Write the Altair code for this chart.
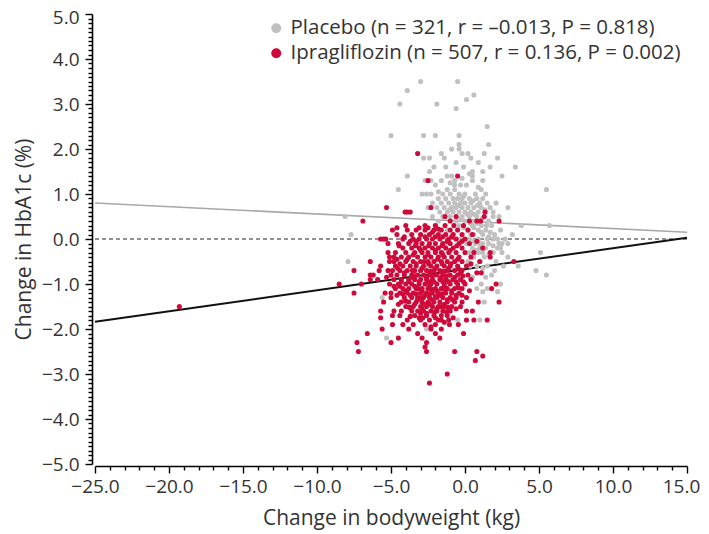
import altair as alt
import pandas as pd

FONT = "Open Sans"

placebo_label = "Placebo (n = 321, r = –0.013, P = 0.818)"
ipra_label = "Ipragliflozin (n = 507, r = 0.136, P = 0.002)"

# Placebo points (change in bodyweight kg, change in HbA1c %)
placebo_points = [
    (-3.0, 3.5), (-0.5, 3.5), (-3.9, 3.3), (0.6, 3.2), (0.1, 3.1), (-4.4, 3.0), (-1.9, 3.0), (-0.6, 2.9),
    (1.5, 2.5), (-5.0, 2.3), (-2.8, 2.3), (-2.0, 2.3), (-0.4, 2.3), (-0.4, 2.1), (1.6, 2.1), (-0.9, 2.0), (-0.4, 2.0),
    (-1.6, 1.9), (0.2, 1.9), (1.3, 1.9), (-2.8, 1.8), (-2.4, 1.8), (-1.4, 1.8), (0.4, 1.8), (2.2, 1.8),
    (3.4, 1.6), (-2.1, 1.6), (-0.1, 1.6), (1.7, 1.6), (-2.4, 1.5), (0.5, 1.5), (1.2, 1.5), (-3.9, 1.4),
    (-1.2, 1.4), (-0.9, 1.4), (0.5, 1.4), (2.5, 1.4),
    (-2.7, 1.3), (-2.3, 1.3), (-1.6, 1.3), (-0.7, 1.3), (0.5, 1.3), (1.2, 1.3), (-2.0, 1.2), (-0.7, 1.2),
    (-0.3, 1.2), (0.1, 1.2), (-4.5, 1.1), (-1.2, 1.1), (-0.7, 1.1), (1.1, 1.1), (5.5, 1.1), (-2.9, 1.0),
    (-2.6, 1.0), (-2.3, 1.0), (-1.5, 1.0), (-1.0, 1.0), (-0.4, 1.0), (0.0, 1.0), (0.7, 1.0), (1.4, 1.0),
    (-1.8, 0.9), (-1.3, 0.9), (-0.8, 0.9), (-0.5, 0.9), (-0.2, 0.9), (0.3, 0.9), (0.8, 0.9), (1.2, 0.9),
    (-2.2, 0.8), (-1.6, 0.8), (-1.1, 0.8), (-0.7, 0.8), (-0.3, 0.8), (0.0, 0.8), (0.4, 0.8), (1.0, 0.8),
    (1.5, 0.8), (2.1, 0.8),
    (-2.5, 0.7), (-1.9, 0.7), (-1.4, 0.7), (-0.9, 0.7), (-0.6, 0.7), (-0.2, 0.7), (0.2, 0.7), (0.6, 0.7),
    (1.1, 0.7), (1.7, 0.7), (2.9, 0.7),
    (-1.7, 0.6), (-1.2, 0.6), (-0.8, 0.6), (-0.4, 0.6), (0.0, 0.6), (0.4, 0.6), (0.9, 0.6), (1.4, 0.6), (1.9, 0.6),
    (-8.1, 0.5), (-2.2, 0.5), (-1.5, 0.5), (-1.0, 0.5), (-0.2, 0.5), (0.3, 0.5), (0.8, 0.5), (1.9, 0.5), (2.3, 0.5),
    (-1.8, 0.4), (-0.6, 0.4), (0.0, 0.4), (0.6, 0.4), (1.6, 0.4),
    (-2.0, 0.3), (-0.4, 0.3), (0.5, 0.3), (1.1, 0.3), (1.8, 0.3), (3.8, 0.3), (5.7, 0.3),
    (-1.2, 0.2), (0.2, 0.2), (0.9, 0.2), (1.4, 0.2), (2.4, 0.2),
    (-7.7, 0.1), (-0.8, 0.1), (0.6, 0.1), (1.2, 0.1), (2.0, 0.1), (3.2, 0.1),
    (0.3, 0.0), (0.9, 0.0), (1.5, 0.0), (1.9, 0.0), (2.7, 0.0),
    (0.1, -0.1), (0.7, -0.1), (1.2, -0.1), (1.6, -0.1), (2.3, -0.1), (2.5, -0.1), (2.9, -0.1),
    (0.5, -0.2), (1.0, -0.2), (1.4, -0.2), (2.2, -0.2), (2.4, -0.2),
    (0.3, -0.3), (0.9, -0.3), (1.9, -0.3), (5.1, -0.3), (0.6, -0.4), (1.3, -0.4), (2.9, -0.4),
    (-7.9, -0.5), (0.2, -0.5), (1.0, -0.5), (2.1, -0.5), (0.8, -0.6), (1.5, -0.6), (3.6, -0.6),
    (4.8, -0.7), (1.8, -0.8), (5.5, -0.8), (1.1, -1.0), (2.4, -1.0), (1.5, -1.1), (1.2, -1.17), (2.2, -1.17),
    (-5.6, -1.3), (1.3, -1.4), (1.0, -1.8), (-0.5, -1.8), (-2.6, -2.0), (-5.3, -2.2),
    (-1.5, -0.3), (-2.5, -0.6), (-1.0, -0.9), (-3.0, -0.2), (-0.3, 0.0), (-1.3, -0.1),
    (-1.0, 1.25), (-0.2, 1.35), (0.3, 1.45), (0.9, 1.15), (-1.8, 1.05), (-0.1, 0.95), (0.55, 0.85),
    (-0.45, 0.75), (0.85, 0.75), (1.35, 0.65), (-1.05, 0.65), (0.15, 0.55), (0.6, 0.55), (1.15, 0.45),
    (-0.3, 0.45), (0.35, 0.35), (0.8, 0.35), (1.45, 0.3), (-0.1, 0.25), (0.6, 0.25), (1.1, 0.15),
    (1.7, 0.15), (0.4, 0.1), (1.6, 0.05), (2.2, 0.0), (0.6, -0.05), (1.0, -0.1), (1.9, -0.15),
    (0.75, -0.25), (1.2, -0.3), (1.6, -0.35), (2.5, -0.3), (0.35, -0.6), (1.2, -0.65), (0.5, -0.85),
    (1.4, -0.85), (2.0, -0.7), (0.8, -1.1), (2.6, -0.6), (-1.3, 1.6), (-0.6, 1.7), (0.9, 1.7), (-0.2, 1.9),
]

# Ipragliflozin points
ipra_points = [
    (-3.2, 1.9), (-0.5, 1.4), (-2.5, 1.3), (-2.3, 0.7), (-5.3, 0.7), (-3.9, 0.6), (-3.7, 0.6), (-4.05, 0.6),
    (-6.9, 0.4), (-0.6, 0.5), (-1.35, 0.5), (1.35, 0.6), (1.3, 0.5), (0.8, 0.4), (2.3, 0.4), (0.3, 0.4),
    (1.05, 0.4), (-1.0, 0.4), (-4.0, 0.3), (-2.7, 0.3), (-2.0, 0.3), (-1.35, 0.3), (-0.75, 0.3), (-0.1, 0.3),
    (-4.9, 0.2), (-3.9, 0.2), (-3.3, 0.2), (-2.7, 0.2), (-2.1, 0.2), (-1.6, 0.2), (-1.0, 0.2), (-0.5, 0.2), (0.2, 0.2),
    (-4.6, 0.1), (-3.6, 0.1), (-3.0, 0.1), (-2.4, 0.1), (-1.8, 0.1), (-1.3, 0.1), (-0.8, 0.1), (-0.2, 0.1), (0.5, 0.1),
    (-5.7, 0.0), (-5.5, 0.0), (-5.35, 0.0), (-4.2, 0.0), (-3.5, 0.0), (-3.1, 0.0), (-2.6, 0.0), (-2.2, 0.0),
    (-1.7, 0.0), (-1.1, 0.0), (-0.6, 0.0), (0.0, 0.0),
    (-5.2, -0.1), (-4.5, -0.1), (-3.8, -0.1), (-3.3, -0.1), (-2.9, -0.1), (-2.4, -0.1), (-2.0, -0.1),
    (-1.5, -0.1), (-1.0, -0.1), (-0.4, -0.1), (0.3, -0.1),
    (-4.2, -0.2), (-3.6, -0.2), (-3.1, -0.2), (-2.7, -0.2), (-2.2, -0.2), (-1.8, -0.2), (-1.3, -0.2),
    (-0.8, -0.2), (-0.2, -0.2), (1.2, -0.2),
    (-4.7, -0.3), (-4.0, -0.3), (-3.4, -0.3), (-2.9, -0.3), (-2.5, -0.3), (-2.0, -0.3), (-1.6, -0.3),
    (-1.1, -0.3), (-0.6, -0.3), (0.0, -0.3), (1.7, -0.3),
    (-5.1, -0.4), (-4.8, -0.4), (-4.3, -0.4), (-3.8, -0.4), (-3.2, -0.4), (-2.7, -0.4), (-2.3, -0.4),
    (-1.8, -0.4), (-1.4, -0.4), (-0.9, -0.4), (-0.4, -0.4), (0.4, -0.4), (1.7, -0.4),
    (-6.4, -0.5), (-5.1, -0.5), (-4.8, -0.5), (-4.0, -0.5), (-3.5, -0.5), (-3.0, -0.5), (-2.5, -0.5),
    (-2.1, -0.5), (-1.6, -0.5), (-1.2, -0.5), (-0.7, -0.5), (-0.2, -0.5), (3.3, -0.5),
    (-5.7, -0.6), (-4.7, -0.6), (-4.2, -0.6), (-3.7, -0.6), (-3.3, -0.6), (-2.8, -0.6), (-2.3, -0.6),
    (-1.9, -0.6), (-1.4, -0.6), (-1.0, -0.6), (-0.5, -0.6), (0.1, -0.6),
    (-7.5, -0.7), (-5.8, -0.7), (-5.2, -0.7), (-4.9, -0.7), (-4.4, -0.7), (-3.9, -0.7), (-3.4, -0.7),
    (-3.0, -0.7), (-2.6, -0.7), (-2.1, -0.7), (-1.7, -0.7), (-1.2, -0.7), (-0.7, -0.7), (-0.2, -0.7),
    (0.8, -0.75), (1.1, -0.75),
    (-6.4, -0.8), (-6.2, -0.8), (-4.6, -0.8), (-4.1, -0.8), (-3.6, -0.8), (-3.2, -0.8), (-2.8, -0.8),
    (-2.4, -0.8), (-1.9, -0.8), (-1.5, -0.8), (-1.0, -0.8), (-0.5, -0.8), (0.2, -0.8),
    (-6.4, -0.9), (-5.9, -0.9), (-4.8, -0.9), (-4.3, -0.9), (-3.8, -0.9), (-3.4, -0.9), (-3.0, -0.9),
    (-2.6, -0.9), (-2.2, -0.9), (-1.7, -0.9), (-1.3, -0.9), (-0.8, -0.9), (-0.3, -0.9), (0.4, -0.9),
    (-8.5, -1.0), (-7.0, -1.0), (-4.5, -1.0), (-4.0, -1.0), (-3.6, -1.0), (-3.1, -1.0), (-2.7, -1.0),
    (-2.3, -1.0), (-1.9, -1.0), (-1.4, -1.0), (-1.0, -1.0), (-0.5, -1.0), (0.0, -1.0), (2.1, -1.0),
    (-4.7, -1.1), (-4.2, -1.1), (-3.8, -1.1), (-3.3, -1.1), (-2.9, -1.1), (-2.5, -1.1), (-2.0, -1.1),
    (-1.6, -1.1), (-1.2, -1.1), (-0.7, -1.1), (-0.2, -1.1), (1.8, -1.1),
    (-7.5, -1.2), (-5.0, -1.2), (-4.4, -1.2), (-3.9, -1.2), (-3.5, -1.2), (-3.0, -1.2), (-2.6, -1.2),
    (-2.2, -1.2), (-1.8, -1.2), (-1.3, -1.2), (-0.9, -1.2), (-0.4, -1.2),
    (-5.0, -1.3), (-4.1, -1.3), (-3.6, -1.3), (-3.2, -1.3), (-2.8, -1.3), (-2.4, -1.3), (-1.9, -1.3),
    (-1.5, -1.3), (-1.0, -1.3), (-0.6, -1.3), (0.1, -1.3),
    (-5.5, -1.4), (-4.3, -1.4), (-3.8, -1.4), (-3.3, -1.4), (-2.9, -1.4), (-2.5, -1.4), (-2.1, -1.4),
    (-1.7, -1.4), (-1.2, -1.4), (-0.7, -1.4), (0.9, -1.4), (2.3, -1.4),
    (-19.3, -1.5), (-4.0, -1.5), (-3.5, -1.5), (-3.0, -1.5), (-2.6, -1.5), (-2.2, -1.5), (-1.8, -1.5),
    (-1.4, -1.5), (-0.9, -1.5), (-0.3, -1.5),
    (-5.7, -1.6), (-4.8, -1.6), (-3.6, -1.6), (-3.2, -1.6), (-2.8, -1.6), (-2.3, -1.6), (-1.9, -1.6),
    (-1.5, -1.6), (-1.0, -1.6), (0.1, -1.6), (0.5, -1.6),
    (-4.9, -1.7), (-4.4, -1.7), (-3.4, -1.7), (-2.6, -1.7), (-2.1, -1.7), (-1.6, -1.7), (-1.2, -1.7),
    (-5.7, -1.75), (-3.9, -1.8), (-3.0, -1.8), (-2.4, -1.8), (-1.8, -1.8), (-1.1, -1.8), (0.1, -1.8),
    (0.6, -1.8), (1.5, -1.8),
    (-4.9, -1.9), (-4.2, -1.9), (-3.5, -1.9), (-2.7, -1.9), (-2.0, -1.9), (-1.05, -1.9), (-0.45, -1.9),
    (-5.6, -2.0), (-3.8, -2.0), (-3.2, -2.1), (-2.3, -2.0), (-1.6, -2.0), (-0.1, -2.1),
    (-6.6, -2.1), (-4.5, -2.2), (-2.9, -2.2), (-2.0, -2.1), (-1.7, -2.2), (-5.0, -2.3), (-7.3, -2.3),
    (-2.6, -2.3), (-2.7, -2.4), (-7.2, -2.5), (-2.6, -2.5), (-0.7, -2.5), (0.8, -2.5), (1.2, -2.6),
    (0.7, -2.7), (-1.2, -3.0), (-2.4, -3.2),
    (-3.3, -0.55), (-2.9, -0.65), (-2.45, -0.55), (-2.0, -0.65), (-1.55, -0.55), (-1.1, -0.65),
    (-3.6, -0.85), (-3.1, -0.95), (-2.6, -0.85), (-2.1, -0.95), (-1.6, -0.85), (-1.1, -0.95), (-0.7, -0.85),
    (-3.4, -1.05), (-2.9, -1.15), (-2.4, -1.05), (-1.9, -1.15), (-1.4, -1.05), (-0.9, -1.15),
    (-3.7, -1.25), (-3.2, -1.35), (-2.7, -1.25), (-2.2, -1.35), (-1.7, -1.25), (-1.2, -1.35),
    (-3.4, -1.45), (-2.9, -1.55), (-2.4, -1.45), (-1.9, -1.55), (-1.4, -1.45),
    (-3.9, -0.45), (-3.5, -0.35), (-3.0, -0.25), (-2.5, -0.35), (-2.0, -0.25), (-1.5, -0.35), (-1.0, -0.25),
    (-4.4, -0.55), (-4.1, -0.75), (-4.3, -0.95), (-4.0, -1.15), (-0.5, -0.45), (-0.3, -0.75), (-0.1, -0.95),
    (-0.6, -1.25), (-2.7, 0.05), (-2.2, 0.15), (-1.5, 0.05), (-3.7, -0.05), (-0.9, 0.05),
    (-2.6, -1.65), (-2.0, -1.75), (-1.4, -1.85), (-3.1, -1.75), (-2.3, -1.95),
    (-4.6, -1.25), (-4.8, -1.05), (-4.5, -1.45), (-0.2, -1.4), (0.3, -1.15), (0.4, -0.55), (0.6, -0.3),
    (0.8, -0.05), (1.0, -0.5), (-5.3, -0.85), (-5.4, -1.2), (-5.2, -0.3), (-4.6, 0.25),
    (-4.45, -0.15), (-3.35, -0.15), (-2.45, -0.15), (-1.55, -0.15), (-0.55, -0.15),
    (-4.6, -0.45), (-2.75, -0.5), (-1.85, -0.45), (-0.95, -0.55),
    (-4.55, -0.65), (-3.55, -0.7), (-2.35, -0.72), (-1.45, -0.72), (-0.45, -0.65),
    (-5.0, -0.8), (-3.4, -0.82), (-2.2, -0.82), (-1.25, -0.82), (-0.15, -0.82),
    (-5.1, -1.0), (-3.8, -0.95), (-2.45, -0.95), (-1.5, -0.95), (-0.6, -0.95),
    (-4.4, -1.05), (-3.15, -1.1), (-2.25, -1.12), (-1.35, -1.12), (-0.45, -1.08),
    (-4.2, -1.22), (-3.3, -1.22), (-2.4, -1.22), (-1.55, -1.22), (-0.2, -1.25),
    (-4.0, -1.38), (-3.0, -1.3), (-2.0, -1.28), (-0.85, -1.35),
    (-3.75, -1.52), (-2.75, -1.45), (-1.65, -1.5), (-1.15, -1.52), (-0.6, -1.55),
    (-4.3, -1.6), (-3.0, -1.65), (-2.05, -1.62), (-1.25, -1.62),
    (-3.7, -1.72), (-2.85, -1.75), (-1.6, -1.8), (-0.8, -1.75),
    (-3.3, -0.05), (-2.0, 0.05), (-1.2, -0.05), (-0.2, -0.05), (-4.1, 0.05), (-3.1, 0.25), (-1.8, 0.22),
    (-2.5, 0.25),
]

# Regression lines and the zero reference line (end points)
line_x = [-25.0, 15.0]
placebo_fit_y = [0.80, 0.15]
ipra_fit_y = [-1.84, 0.03]
zero_y = [0.0, 0.0]

pts = pd.DataFrame(
    [(x, y, placebo_label) for x, y in placebo_points]
    + [(x, y, ipra_label) for x, y in ipra_points],
    columns=["x", "y", "group"],
)

lines = pd.DataFrame({
    "x": line_x * 3,
    "y": placebo_fit_y + ipra_fit_y + zero_y,
    "which": ["placebo"] * 2 + ["ipra"] * 2 + ["zero"] * 2,
})

x_ticks = list(range(-25, 16))
y_ticks = [round(-5 + 0.1 * i, 1) for i in range(101)]

x_scale = alt.Scale(domain=[-25, 15], nice=False, zero=False)
y_scale = alt.Scale(domain=[-5, 5], nice=False, zero=False)

XMAJ = "abs(datum.value / 5 - round(datum.value / 5)) < 0.001"
YMAJ = "abs(datum.value - round(datum.value)) < 0.001"

x_axis = alt.Axis(
    title="Change in bodyweight (kg)",
    values=x_ticks,
    labelExpr=f"{XMAJ} ? format(datum.value, '.1f') : ''",
    tickSize={"condition": {"test": XMAJ, "value": 7}, "value": 4},
    labelOffset={"condition": {"test": "datum.value > 14.5", "value": -6}, "value": 0},
    labelOverlap=False,
    labelFlush=False,
    grid=False,
    offset=2,
    labelPadding=4,
    titlePadding=11,
    labelFontSize=19,
    titleFontSize=21,
)
y_axis = alt.Axis(
    title="Change in HbA1c (%)",
    values=y_ticks,
    labelExpr=f"{YMAJ} ? format(datum.value, '.1f') : ''",
    tickSize={"condition": {"test": YMAJ, "value": 7}, "value": 4},
    labelOffset={"condition": {"test": "datum.value > 4.5", "value": 3}, "value": 0},
    labelOverlap=False,
    labelFlush=False,
    grid=False,
    offset=3,
    labelPadding=6,
    titlePadding=7,
    labelFontSize=19,
    titleFontSize=21,
)

X = alt.X("x:Q", scale=x_scale, axis=x_axis)
Y = alt.Y("y:Q", scale=y_scale, axis=y_axis)

base_lines = alt.Chart(lines)

zero_line = base_lines.transform_filter(alt.datum.which == "zero").mark_line(
    color="#222222", strokeWidth=1, strokeDash=[4, 3]
).encode(x=X, y=Y)
placebo_line = base_lines.transform_filter(alt.datum.which == "placebo").mark_line(
    color="#a8a8a8", strokeWidth=1.6
).encode(x=X, y=Y)
ipra_line = base_lines.transform_filter(alt.datum.which == "ipra").mark_line(
    color="#111111", strokeWidth=2
).encode(x=X, y=Y)

points = alt.Chart(pts).mark_circle(size=26, opacity=1).encode(
    x=X,
    y=Y,
    color=alt.Color(
        "group:N",
        scale=alt.Scale(domain=[placebo_label, ipra_label], range=["#c0c0c0", "#cf0a3b"]),
        legend=alt.Legend(
            title=None,
            orient="none",
            legendX=171,
            legendY=4,
            symbolType="circle",
            symbolSize=100,
            labelFontSize=20.5,
            labelFont=FONT,
            labelColor="#333333",
            labelOffset=4,
            rowPadding=4,
            labelLimit=500,
        ),
    ),
)

chart = alt.layer(zero_line, placebo_line, ipra_line, points).properties(
    width=592,
    height=450,
    autosize=alt.AutoSizeParams(type="none"),
    padding={"left": 87, "top": 6, "right": 14, "bottom": 70},
).configure_view(stroke=None).configure_axis(
    labelFont=FONT,
    titleFont=FONT,
    labelColor="#333333",
    titleColor="#333333",
    titleFontWeight="normal",
    domainColor="#000000",
    domainWidth=1.6,
    tickColor="#000000",
    tickWidth=1.4,
)

chart.save("out.html", embed_options={"renderer": "svg", "actions": False})
